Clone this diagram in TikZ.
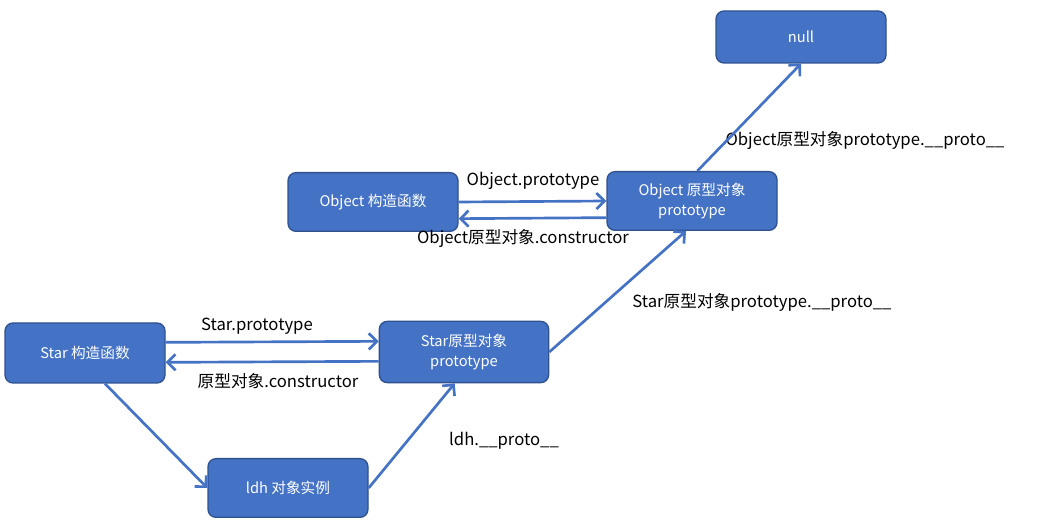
\documentclass[tikz,border=0pt]{standalone}
\usepackage{fontspec}
\setmainfont{Noto Sans CJK SC}
\usetikzlibrary{arrows.meta}
\definecolor{bx}{RGB}{68, 114, 196}
\definecolor{bxline}{RGB}{47, 82, 143}

\begin{document}
\begin{tikzpicture}
			[x=0.75pt,y=-0.75pt,
			box/.style={rectangle, rounded corners=6pt, fill=bx, draw=bxline, line width=1pt, text=white, align=center, inner sep=0pt, font=\fontsize{11}{15}\selectfont},
			link/.style={line width=2pt, color=bx, -{Straight Barb[length=6pt,width=12pt,line width=2pt]}},
			lbl/.style={inner sep=0pt, font=\fontsize{12.5}{14}\selectfont}]
			\useasboundingbox [fill=white] (0, 0) rectangle (1039, 530);
			\node (null) [box, minimum width=127.5pt, minimum height=39pt] at (801, 37) {null};
			\node (objctor) [box, minimum width=127.5pt, minimum height=44pt] at (373, 202) {Object 构造函数};
			\node (objproto) [box, minimum width=127.5pt, minimum height=44pt] at (692, 201) {Object 原型对象\\prototype};
			\node (starctor) [box, minimum width=120pt, minimum height=45pt] at (85, 353) {Star 构造函数};
			\node (starproto) [box, minimum width=127pt, minimum height=46pt] at (464, 352) {Star原型对象\\prototype};
			\node (ldh) [box, minimum width=120pt, minimum height=44pt] at (288, 488) {ldh 对象实例};
			\node (l1) [lbl] at (533, 181) {Object.prototype};
			\node (l2) [lbl] at (523, 238) {Object原型对象.constructor};
			\node (l3) [lbl] at (257, 326) {Star.prototype};
			\node (l4) [lbl] at (278, 381) {原型对象.constructor};
			\node (l5) [lbl] at (504, 441) {ldh.\_\_proto\_\_};
			\node (l6) [lbl] at (762, 302) {Star原型对象prototype.\_\_proto\_\_};
			\node (l7) [lbl] at (865, 140) {Object原型对象prototype.\_\_proto\_\_};
			\draw [link] ([yshift=0pt]objctor.east) to ([yshift=0pt]objproto.west);
			\draw [link] ([yshift=-12.5pt]objproto.west) to ([yshift=-12.5pt]objctor.east);
			\draw [link] ([yshift=8pt]starctor.east) to ([yshift=8pt]starproto.west);
			\draw [link] ([yshift=-7pt]starproto.west) to ([yshift=-7pt]starctor.east);
			\draw [link] ([xshift=15pt]starctor.south) to (ldh.west);
			\draw [link] (ldh.east) to ([xshift=-7pt]starproto.south);
			\draw [link] (starproto.east) to ([xshift=-4.5pt]objproto.south);
			\draw [link] ([xshift=4pt]objproto.north) to (null.south);
	\end{tikzpicture}
\end{document}
